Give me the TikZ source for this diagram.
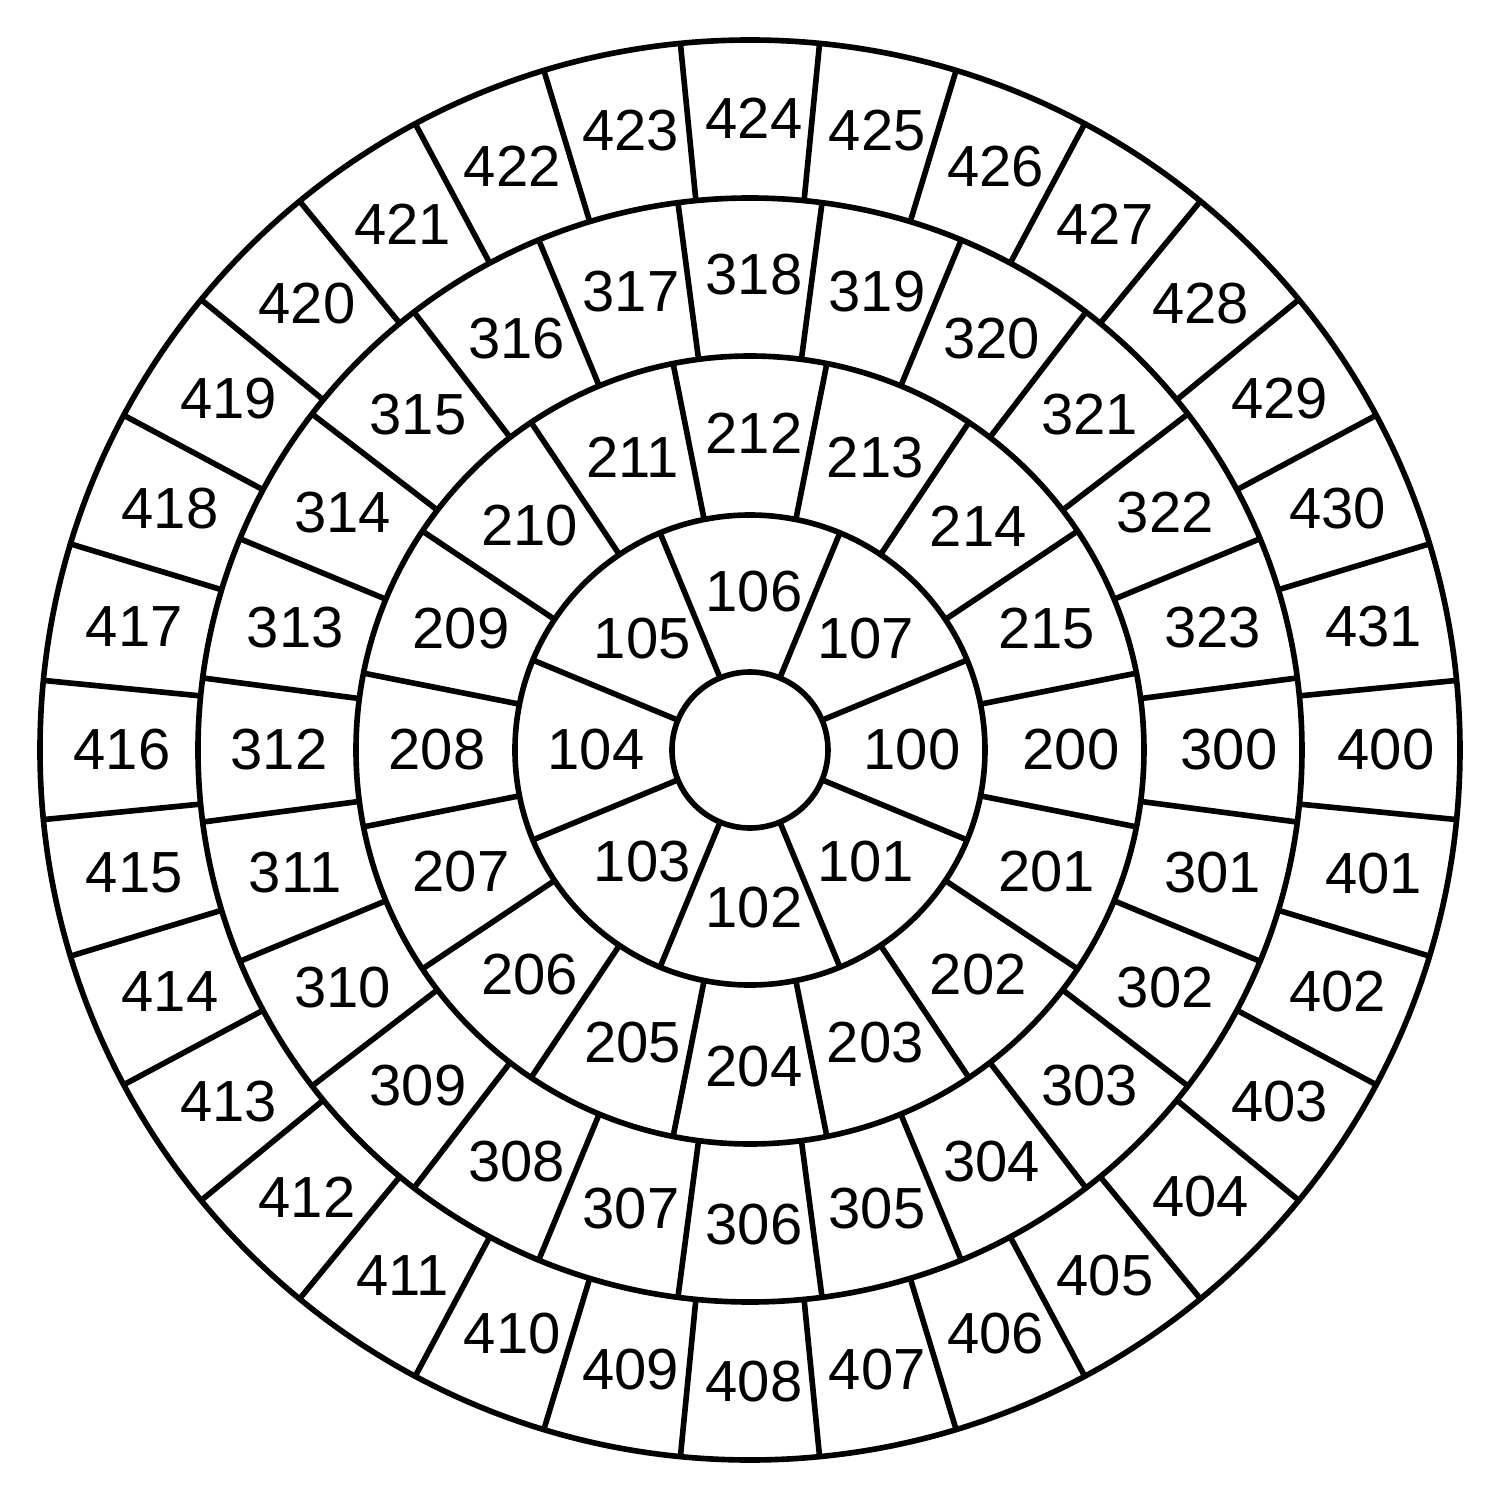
\documentclass[tikz,border=0pt]{standalone}
\usepackage{fontspec}
\setmainfont{Liberation Sans}
\begin{document}
\begin{tikzpicture}[line width=1.6pt,
  lab/.style={font=\fontsize{16.5}{16.5}\selectfont, inner sep=0pt, xshift=0.04cm}]
\useasboundingbox (-7.5,-7.5) rectangle (7.5,7.5);
\fill[white] (-7.5,-7.5) rectangle (7.5,7.5);
\foreach \r in {0.78,2.35,3.94,5.52,7.10} \draw (0,0) circle (\r);
% ring 1
\foreach \k in {0,...,7} {
  \draw ({-22.5-45*\k}:0.78) -- ({-22.5-45*\k}:2.35);
  \pgfmathtruncatemacro\n{100+\k}
  \node[lab] (l\n) at ({-45*\k}:1.58) {\n};
}
% ring 2
\foreach \k in {0,...,15} {
  \draw ({-11.25-22.5*\k}:2.35) -- ({-11.25-22.5*\k}:3.94);
  \pgfmathtruncatemacro\n{200+\k}
  \node[lab] (l\n) at ({-22.5*\k}:3.17) {\n};
}
% ring 3
\foreach \k in {0,...,23} {
  \draw ({-7.5-15*\k}:3.94) -- ({-7.5-15*\k}:5.52);
  \pgfmathtruncatemacro\n{300+\k}
  \node[lab] (l\n) at ({-15*\k}:4.75) {\n};
}
% ring 4
\foreach \k in {0,...,31} {
  \draw ({-5.625-11.25*\k}:5.52) -- ({-5.625-11.25*\k}:7.10);
  \pgfmathtruncatemacro\n{400+\k}
  \node[lab] (l\n) at ({-11.25*\k}:6.32) {\n};
}
\end{tikzpicture}
\end{document}
